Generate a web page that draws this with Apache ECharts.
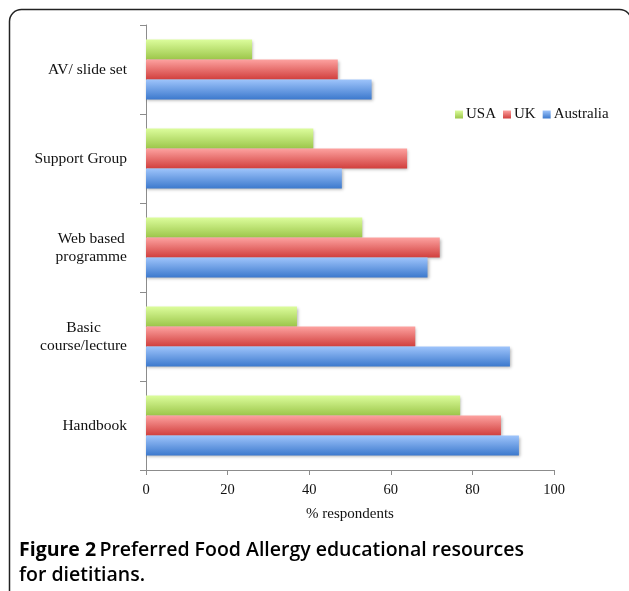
<!DOCTYPE html>
<html>
<head>
<meta charset="utf-8">
<script src="https://cdn.jsdelivr.net/npm/echarts@6/dist/echarts.min.js"></script>
<style>
html,body{margin:0;padding:0;background:#fff;}
#chart{width:629px;height:591px;}
</style>
</head>
<body>
<div id="chart"></div>
<script>
// Categories listed bottom to top
const categories = ['Handbook', 'Basic\ncourse/lecture', 'Web based\nprogramme', 'Support Group', 'AV/ slide set'];
const usaValues = [77, 37, 53, 41, 26];
const ukValues = [87, 66, 72, 64, 47];
const australiaValues = [91.4, 89.2, 69, 48, 55.3];
const xTicks = [0, 20, 40, 60, 80, 100];
const legendNames = ['USA', 'UK', 'Australia'];

const serif = '"Liberation Serif", "DejaVu Serif", serif';

function grad(top, bottom) {
  return new echarts.graphic.LinearGradient(0, 0, 0, 1, [
    { offset: 0, color: top },
    { offset: 1, color: bottom }
  ]);
}

const chart = echarts.init(document.getElementById('chart'), null, { renderer: 'canvas' });

const barCommon = {
  type: 'bar',
  barWidth: 20,
  barGap: '0%',
  emphasis: { disabled: true }
};

function shadowStyle(color) {
  return {
    color: color,
    shadowBlur: 3,
    shadowColor: 'rgba(0,0,0,0.3)',
    shadowOffsetX: 1,
    shadowOffsetY: 1
  };
}

const option = {
  animation: false,
  backgroundColor: '#ffffff',
  grid: { left: 146, right: 75, top: 25, bottom: 121, containLabel: false },
  legend: {
    data: legendNames,
    left: 450,
    top: 102,
    itemWidth: 8,
    itemHeight: 8,
    itemGap: 7,
    icon: 'rect',
    textStyle: { fontFamily: serif, fontSize: 15, color: '#111', padding: [0, 0, 0, -2] }
  },
  xAxis: {
    type: 'value',
    min: 0,
    max: 100,
    interval: 20,
    name: '% respondents',
    nameLocation: 'middle',
    nameGap: 37,
    nameTextStyle: { fontFamily: serif, fontSize: 15, color: '#111' },
    axisLine: { show: true, lineStyle: { color: '#8c8c8c', width: 1 } },
    axisTick: { show: true, length: 5, lineStyle: { color: '#8c8c8c' } },
    axisLabel: {
      fontFamily: serif, fontSize: 14.5, color: '#111', margin: 13,
      formatter: function (v) { return xTicks.indexOf(v) >= 0 ? String(v) : ''; }
    },
    splitLine: { show: false }
  },
  yAxis: {
    type: 'category',
    data: categories,
    axisLine: { show: true, lineStyle: { color: '#8c8c8c', width: 1 } },
    axisTick: { show: true, length: 6, lineStyle: { color: '#8c8c8c' } },
    axisLabel: {
      margin: 19,
      align: 'right',
      formatter: function (v) {
        return v.split('\n').map(function (s) { return '{c|' + s + '}'; }).join('\n');
      },
      rich: {
        c: { align: 'center', fontFamily: serif, fontSize: 15.5, color: '#111', lineHeight: 18 }
      }
    },
    splitLine: { show: false }
  },
  series: [
    Object.assign({}, barCommon, {
      name: 'USA', data: usaValues,
      itemStyle: shadowStyle(grad('#dcfd9c', '#9cc64a'))
    }),
    Object.assign({}, barCommon, {
      name: 'UK', data: ukValues,
      itemStyle: shadowStyle(grad('#fda2a0', '#d13f3d'))
    }),
    Object.assign({}, barCommon, {
      name: 'Australia', data: australiaValues,
      itemStyle: shadowStyle(grad('#9ec4fb', '#3c79cd'))
    })
  ],
  graphic: [
    {
      type: 'rect',
      shape: { x: 9.5, y: 9.5, width: 622, height: 600, r: 12 },
      style: { fill: 'none', stroke: '#222', lineWidth: 1.5 },
      silent: true
    },
    {
      type: 'text',
      left: 19,
      top: 540,
      style: {
        text: '{b|Figure 2} {n|Preferred Food Allergy educational resources}\n{n|for dietitians.}',
        rich: {
          b: { fontFamily: '"Open Sans", "Noto Sans", sans-serif', fontWeight: 'bold', fontSize: 19.5, color: '#222', lineHeight: 25 },
          n: { fontFamily: '"Open Sans", "Noto Sans", sans-serif', fontWeight: 600, fontSize: 19.5, color: '#222', lineHeight: 25 }
        }
      },
      silent: true
    }
  ]
};

chart.setOption(option);
</script>
</body>
</html>
